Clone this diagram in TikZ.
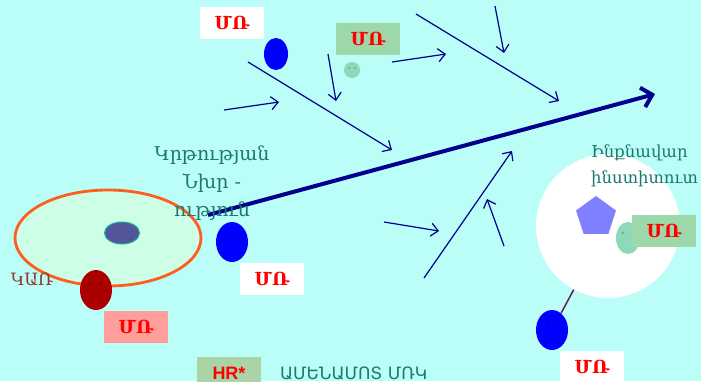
\documentclass[tikz,border=0pt]{standalone}
\usepackage{fontspec}
\setmainfont{DejaVu Serif}
\newfontfamily\armsans{DejaVu Sans}
\newfontfamily\latsans{Liberation Sans}
\usetikzlibrary{shapes.geometric,arrows.meta}

\definecolor{bgcyan}{RGB}{187,253,247}
\definecolor{navyline}{RGB}{0,0,140}
\definecolor{boxgreen}{RGB}{157,216,171}
\definecolor{hrgreen}{RGB}{170,212,166}
\definecolor{pinkbox}{RGB}{255,158,154}
\definecolor{tealtext}{RGB}{26,122,110}
\definecolor{browntext}{RGB}{140,58,45}
\definecolor{orangering}{RGB}{255,94,32}
\definecolor{palegreen}{RGB}{204,255,230}
\definecolor{corefill}{RGB}{83,85,154}
\definecolor{coreedge}{RGB}{26,170,160}
\definecolor{darkred}{RGB}{170,0,0}
\definecolor{mint}{RGB}{143,216,184}
\definecolor{pentablue}{RGB}{128,128,255}
\definecolor{plumline}{RGB}{110,26,90}

\tikzset{
  tag/.style={minimum width=64, minimum height=32, inner sep=0pt,
    text=red, font=\bfseries\fontsize{18}{18}\selectfont},
  face/.style={ellipse, inner sep=0pt, minimum width=32, minimum height=40},
  smallface/.style={ellipse, inner sep=0pt, minimum width=24, minimum height=32},
  feeder/.style={draw=navyline, line width=1.2pt,
    -{Straight Barb[length=7pt,width=13pt]}},
  tealnote/.style={text=tealtext, inner sep=0pt,
    font=\fontsize{19}{28}\selectfont},
}

\begin{document}
\begin{tikzpicture}[x=1pt,y=-1pt]
  % canvas
  \clip (0,0) rectangle (701,381);
  \fill[bgcyan] (0,0) rectangle (701,381);

  % organisation ring on the left
  \node[ellipse, draw=orangering, line width=2.8pt, fill=palegreen,
        minimum width=186, minimum height=96, inner sep=0pt] (ring) at (108,238) {};
  \node[ellipse, draw=coreedge, line width=1pt, fill=corefill,
        minimum width=35, minimum height=22, inner sep=0pt] (core) at (122,233) {};

  % institute disc on the right
  \node[circle, fill=white, minimum size=144, inner sep=0pt] (disc) at (608,226) {};
  \node[regular polygon, regular polygon sides=5, fill=pentablue,
        minimum size=42, inner sep=0pt] (penta) at (596,217) {};

  % main arrow
  \coordinate (mstart) at (208,215);
  \coordinate (mend) at (655,94);
  \draw[navyline, line width=4pt, -{Straight Barb[length=10pt,width=20pt]}] (mstart) -- (mend);

  % feeder arrows
  \coordinate (f1a) at (248,62);  \coordinate (f1b) at (392,150);
  \coordinate (f2a) at (224,110); \coordinate (f2b) at (279,102);
  \coordinate (f3a) at (328,54);  \coordinate (f3b) at (336,101);
  \coordinate (f4a) at (392,62);  \coordinate (f4b) at (446,54);
  \coordinate (f5a) at (416,14);  \coordinate (f5b) at (559,101);
  \coordinate (f6a) at (495,6);   \coordinate (f6b) at (504,53);
  \coordinate (f7a) at (384,222); \coordinate (f7b) at (439,231);
  \coordinate (f8a) at (424,278); \coordinate (f8b) at (512,151);
  \coordinate (f9a) at (504,246); \coordinate (f9b) at (487,199);
  \foreach \i in {1,...,9} \draw[feeder] (f\i a) -- (f\i b);

  % people
  \node[smallface, fill=blue] (p1) at (276,54) {};
  \node[circle, fill=mint, minimum size=16, inner sep=0pt] (p2) at (352,70) {};
  \node[face, fill=darkred] (p3) at (96,290) {};
  \node[face, fill=blue] (p4) at (232,242) {};
  \node[smallface, fill=mint] (p5) at (628,238) {};
  \node[face, fill=blue] (p6) at (552,330) {};

  % eyes
  \fill[blue!70!black] (272,50) circle (1.3) (281,50) circle (1.3);
  \fill[mint!80!black] (349,68) circle (1.1) (355,68) circle (1.1);
  \fill[darkred!75!black] (90,284) circle (1.6) (101,284) circle (1.6);
  \fill[blue!70!black] (227,237) circle (1.5) (237,237) circle (1.5);
  \fill[mint!80!black] (623,233) circle (1.3) (633,233) circle (1.3);
  \fill[blue!70!black] (547,323) circle (1.5) (557,323) circle (1.5);

  % link from the disc to the person below it
  \draw[plumline, line width=1.5pt] (disc) -- (p6);

  % labels
  \node[tag, fill=white]    (t1) at (232,23)  {ՄՌ};
  \node[tag, fill=boxgreen] (t2) at (368,39)  {ՄՌ};
  \node[tag, fill=white]    (t3) at (272,279) {ՄՌ};
  \node[tag, fill=pinkbox]  (t4) at (136,327) {ՄՌ};
  \node[tag, fill=boxgreen] (t5) at (664,231) {ՄՌ};
  \node[tag, fill=white]    (t6) at (592,367) {ՄՌ};
  \node[tag, fill=hrgreen, font=\latsans\bfseries\fontsize{18}{18}\selectfont]
        (hr) at (229,373) {HR*};

  \node[tealnote, align=center] (edu) at (212,183)
        {Կրթության\\Նխր -\\ություն};
  \node[tealnote, align=left, anchor=west, font=\fontsize{16.5}{26}\selectfont]
        (inst) at (591,166) {Ինքնավար\\ինստիտուտ};
  \node[text=browntext, inner sep=0pt, font=\fontsize{17}{17}\selectfont]
        (kar) at (32,279) {ԿԱՌ};
  \node[text=tealtext, inner sep=0pt, anchor=west,
        font=\armsans\fontsize{17}{17}\selectfont] (near) at (280,373) {ԱՄԵՆԱՄՈՏ ՄՌԿ};
\end{tikzpicture}
\end{document}
